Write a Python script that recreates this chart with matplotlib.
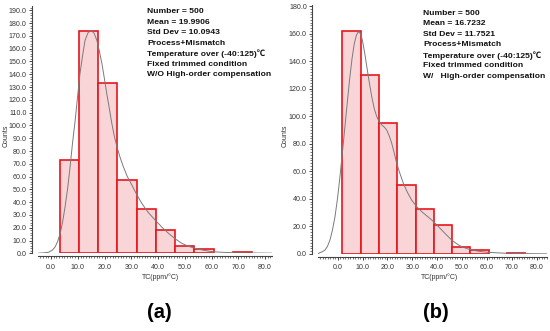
import numpy as np
import matplotlib
matplotlib.use('Agg')
import matplotlib.pyplot as plt
from matplotlib.ticker import MultipleLocator, FormatStrFormatter

plt.rcParams['font.family'] = ['Liberation Sans', 'Noto Sans CJK SC', 'DejaVu Sans']

# ---- data ----
# (a) without high-order compensation
bin_start_a = 3.2
bin_width_a = 7.2
counts_a = [73, 174, 133, 57, 35, 18, 6, 3, 0, 1]
curve_x_a = [-4.9, -3.0, -1.0, 0.5, 1.5, 2.5, 3.4, 4.3, 5.2, 6.2, 7.1, 8.0, 9.0, 9.9, 10.8,
             11.8, 12.7, 13.8, 15.0, 16.1, 17.1, 18.0, 19.0, 19.9, 20.8, 21.8, 22.7, 23.6,
             24.6, 25.8, 27.0, 28.5, 30.2, 32.0, 33.9, 36.3, 38.9, 41.4, 43.9, 46.4, 48.9,
             51.3, 53.8, 57.0, 60.1, 63.0, 66.0, 72.0, 82.5]
curve_y_a = [0.1, 0.3, 0.8, 2.5, 5.0, 9.5, 15.6, 24.5, 36.0, 51.0, 67.7, 86.0, 104.0, 122.5,
             140.6, 155.0, 166.6, 172.5, 174.4, 172.0, 166.6, 158.5, 148.4, 137.0, 125.0,
             113.0, 101.6, 92.0, 83.4, 75.0, 67.7, 60.0, 53.4, 46.0, 39.1, 32.0, 26.0, 20.5,
             15.6, 11.3, 7.8, 5.5, 3.9, 2.4, 1.3, 0.9, 0.6, 0.3, 0.1]
text_a = ['Number = 500', 'Mean = 19.9906', 'Std Dev = 10.0943', 'Process+Mismatch',
          'Temperature over (-40:125)\u2103', 'Fixed trimmed condition',
          'W/O High-order compensation']

# (b) with high-order compensation
bin_start_b = 1.9
bin_width_b = 7.35
counts_b = [162, 130, 95, 50, 33, 21, 5, 3, 0, 1]
curve_x_b = [-7.8, -7.1, -6.1, -5.1, -4.1, -3.1, -2.1, -1.1, -0.1, 0.9, 1.9, 2.9, 3.9, 4.9,
             5.8, 6.7, 7.5, 8.3, 9.1, 9.9, 10.8, 11.7, 12.7, 13.7, 14.7, 15.7, 16.7, 17.7,
             18.7, 19.7, 20.7, 21.7, 22.7, 23.7, 25.0, 26.4, 28.0, 29.7, 31.7, 33.8, 35.8,
             37.8, 39.8, 41.8, 43.8, 45.8, 47.8, 49.8, 52.5, 55.2, 57.8, 60.5, 67.0, 74.0,
             84.0]
curve_y_b = [0.4, 1.0, 1.7, 2.9, 5.6, 10.2, 17.5, 27.0, 40.0, 56.0, 74.0, 92.4, 111.0, 128.8,
             142.5, 153.0, 158.8, 161.5, 160.0, 155.4, 146.5, 136.0, 124.5, 114.0, 105.5,
             99.7, 96.0, 93.7, 92.2, 90.0, 85.8, 80.4, 73.5, 65.9, 58.5, 51.3, 44.8, 39.2,
             34.5, 30.7, 27.7, 24.7, 21.2, 17.4, 13.7, 10.2, 7.5, 5.3, 3.6, 2.4, 1.7, 1.2,
             0.6, 0.3, 0.1]
text_b = ['Number = 500', 'Mean = 16.7232', 'Std Dev = 11.7521', 'Process+Mismatch',
          'Temperature over (-40:125)\u2103', 'Fixed trimmed condition',
          'W/   High-order compensation']

x_ticks = [0, 10, 20, 30, 40, 50, 60, 70, 80]

W, H = 550, 331
fig = plt.figure(figsize=(5.5, 3.31), dpi=100)


def panel(rect, xlim, ylim, ymajor, start, width, counts, cx, cy):
    ax = fig.add_axes(rect)
    edges = start + width * np.arange(len(counts))
    counts = np.array(counts)
    keep = counts > 0
    ax.bar(edges[keep], counts[keep], width=width, align='edge',
           facecolor='#f9d5d8', edgecolor='#e8161b', linewidth=1.2, zorder=2)
    ax.plot(cx, cy, color='#7a7a7a', linewidth=0.7, zorder=3)
    ax.set_xlim(*xlim)
    ax.set_ylim(*ylim)
    for s in ['top', 'right']:
        ax.spines[s].set_visible(False)
    ax.spines['left'].set_position(('outward', 4.2))
    ax.spines['bottom'].set_position(('outward', 2.0))
    for s in ['left', 'bottom']:
        ax.spines[s].set_color('#444444')
        ax.spines[s].set_linewidth(0.8)
    ax.set_xticks(x_ticks)
    ax.xaxis.set_minor_locator(MultipleLocator(1))
    ax.yaxis.set_major_locator(MultipleLocator(ymajor))
    ax.yaxis.set_minor_locator(MultipleLocator(2))
    ax.xaxis.set_major_formatter(FormatStrFormatter('%.1f'))
    ax.yaxis.set_major_formatter(FormatStrFormatter('%.1f'))
    ax.tick_params(which='major', length=2.5, width=0.7, color='#444444',
                   labelsize=5.1, labelcolor='#333333', pad=1.5)
    ax.tick_params(which='minor', length=1.5, width=0.5, color='#444444')
    ax.tick_params(axis='x', which='major', pad=3)
    ax.patch.set_visible(False)
    return ax


ax_a = panel([38 / W, 1 - 253.3 / H, 234 / W, 247.3 / H], (-4.9, 82.6), (0, 193.4), 10,
             bin_start_a, bin_width_a, counts_a, curve_x_a, curve_y_a)
ax_b = panel([318.3 / W, 1 - 254 / H, 228.4 / W, 249 / H], (-7.8, 84.0), (0, 180.8), 20,
             bin_start_b, bin_width_b, counts_b, curve_x_b, curve_y_b)

# statistics text blocks
for lines, x0, y0 in [(text_a, 147, 11.7), (text_b, 423.3, 13.3)]:
    for i, line in enumerate(lines):
        fig.text(x0 / W, 1 - (y0 + 10.5 * i) / H, line, fontsize=6.1, fontweight='bold',
                 ha='left', va='center', color='#111111')

# axis labels
for xc in [6, 285]:
    fig.text(xc / W, 1 - 136 / H, 'Counts', fontsize=5.0, rotation=90,
             ha='center', va='center', color='#333333')
for xc in [161, 440]:
    fig.text(xc / W, 1 - 277 / H, 'TC(ppm/\u00b0C)', fontsize=5.0,
             ha='center', va='center', color='#333333')

# panel labels
fig.text(159 / W, 1 - 313 / H, '(a)', fontsize=14.5, fontweight='bold', ha='center', va='center')
fig.text(436 / W, 1 - 313 / H, '(b)', fontsize=14.5, fontweight='bold', ha='center', va='center')

fig.savefig('out.png', dpi=100)
